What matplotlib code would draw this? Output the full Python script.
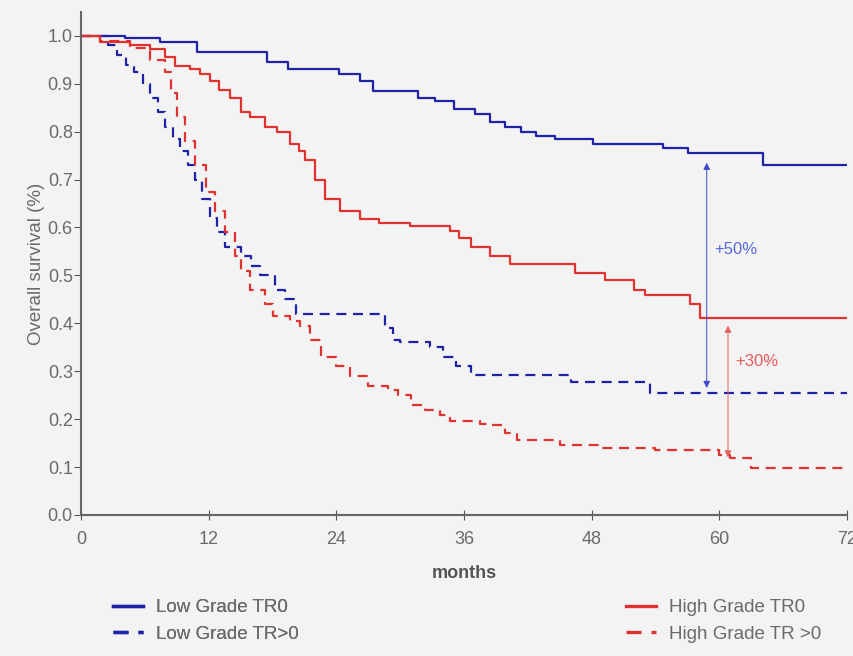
#!/usr/bin/env python3
"""Kaplan-Meier style survival curves by grade and residual tumour."""

import matplotlib

matplotlib.use("Agg", force=True)
import matplotlib.pyplot as plt

# step curves: event times (months) and survival after each step
low_tr0_t = [0, 4.1, 7.4, 10.9, 17.5, 19.4, 24.2, 26.2, 27.4, 31.7, 33.3, 35.0, 37.0, 38.4,
             39.8, 41.3, 42.8, 44.5, 48.1, 54.7, 57.0, 64.1, 72]
low_tr0_s = [1.0, 0.995, 0.988, 0.967, 0.945, 0.93, 0.92, 0.905, 0.884, 0.87, 0.863, 0.848, 0.836,
             0.82, 0.81, 0.80, 0.79, 0.784, 0.775, 0.765, 0.755, 0.73, 0.73]

high_tr0_t = [0, 1.8, 4.6, 6.5, 7.9, 8.8, 10.2, 11.2, 12.1, 13.0, 14.0, 15.0, 15.9, 17.3, 18.4,
              19.6, 20.5, 21.0, 22.0, 22.9, 24.3, 26.2, 28.0, 30.9, 34.7, 35.5, 36.6, 38.4, 40.3,
              46.4, 49.2, 52.0, 53.0, 57.2, 58.2, 72]
high_tr0_s = [1.0, 0.988, 0.98, 0.973, 0.956, 0.936, 0.93, 0.92, 0.905, 0.887, 0.87, 0.84, 0.83,
              0.81, 0.80, 0.775, 0.76, 0.74, 0.70, 0.66, 0.634, 0.617, 0.61, 0.603, 0.593, 0.578,
              0.56, 0.54, 0.524, 0.505, 0.49, 0.47, 0.46, 0.44, 0.41, 0.41]

low_trp_t = [0, 2.5, 3.4, 4.2, 5.0, 5.8, 6.5, 7.2, 7.9, 8.6, 9.3, 10.0, 10.7, 11.4, 12.1, 12.8,
             13.5, 15.0, 16.0, 16.8, 18.2, 19.2, 20.2, 28.6, 29.3, 30.0, 32.8, 34.0, 35.2, 36.6,
             46.0, 53.5, 72]
low_trp_s = [1.0, 0.98, 0.96, 0.94, 0.925, 0.90, 0.87, 0.84, 0.81, 0.785, 0.76, 0.73, 0.70,
             0.66, 0.62, 0.59, 0.56, 0.54, 0.52, 0.50, 0.47, 0.45, 0.42, 0.39, 0.365, 0.36, 0.35,
             0.33, 0.31, 0.293, 0.277, 0.254, 0.254]

high_trp_t = [0, 1.8, 4.6, 6.5, 7.9, 8.4, 9.0, 9.8, 10.7, 11.7, 12.6, 13.5, 14.5, 15.0, 15.9,
              17.3, 18.0, 19.6, 20.6, 21.5, 22.5, 24.0, 25.3, 27.0, 28.8, 29.8, 31.0, 32.3,
              33.7, 34.7, 37.5, 38.5, 39.8, 41.0, 45.0, 49.0, 53.9, 60.0, 61.0, 63.0, 72]
high_trp_s = [1.0, 0.99, 0.975, 0.95, 0.925, 0.88, 0.83, 0.78, 0.73, 0.675, 0.635, 0.59, 0.54,
              0.51, 0.47, 0.44, 0.415, 0.405, 0.395, 0.365, 0.33, 0.31, 0.29, 0.27, 0.26, 0.25,
              0.23, 0.218, 0.208, 0.197, 0.19, 0.187, 0.172, 0.156, 0.145, 0.14, 0.135, 0.125,
              0.118, 0.098, 0.098]

x_ticks = [0, 12, 24, 36, 48, 60, 72]
y_ticks = [0.0, 0.1, 0.2, 0.3, 0.4, 0.5, 0.6, 0.7, 0.8, 0.9, 1.0]

BLUE = "#1f22a6"
RED = "#e0322e"
GREY = "#6a6a6a"
DASH = (0, (4.5, 3))

plt.rcParams["font.family"] = ["Liberation Sans", "DejaVu Sans"]


def main():
    fig = plt.figure(figsize=(8.54, 6.56), dpi=100)
    fig.patch.set_facecolor("#f3f3f3")
    ax = fig.add_axes([0.095, 0.215, 0.897, 0.767])
    ax.set_facecolor("#f3f3f3")

    l1, = ax.plot(low_tr0_t, low_tr0_s, drawstyle="steps-post", color=BLUE, lw=1.6)
    l2, = ax.plot(low_trp_t, low_trp_s, drawstyle="steps-post", color=BLUE, lw=1.6, ls=DASH)
    l3, = ax.plot(high_tr0_t, high_tr0_s, drawstyle="steps-post", color=RED, lw=1.6)
    l4, = ax.plot(high_trp_t, high_trp_s, drawstyle="steps-post", color=RED, lw=1.6, ls=DASH)

    # difference arrows
    ax.annotate("", xy=(58.8, 0.735), xytext=(58.8, 0.265),
                arrowprops=dict(arrowstyle="<|-|>", color="#3c48c8", lw=0.7,
                                mutation_scale=10, shrinkA=0, shrinkB=0))
    ax.text(59.5, 0.555, "+50%", color="#5a6ae0", fontsize=12, va="center")
    ax.annotate("", xy=(60.8, 0.395), xytext=(60.8, 0.12),
                arrowprops=dict(arrowstyle="<|-|>", color="#e06060", lw=0.7,
                                mutation_scale=10, shrinkA=0, shrinkB=0))
    ax.text(61.5, 0.32, "+30%", color="#e85a5a", fontsize=12, va="center")

    ax.set_xlim(0, 72)
    ax.set_ylim(0, 1.05)
    ax.set_xticks(x_ticks)
    ax.set_yticks(y_ticks)
    ax.set_yticklabels([f"{v:.1f}" for v in y_ticks])
    ax.tick_params(axis="both", colors="#555555", labelsize=13, labelcolor=GREY)
    ax.tick_params(axis="y", length=5, pad=1)
    ax.tick_params(axis="x", direction="inout", length=7, pad=8)
    for side in ("top", "right"):
        ax.spines[side].set_visible(False)
    for side in ("left", "bottom"):
        ax.spines[side].set_color("#666666")
        ax.spines[side].set_linewidth(1.5)

    ax.set_xlabel("months", color="#555555", fontsize=13, fontweight="bold", labelpad=12)
    ax.set_ylabel("Overall survival (%)", color=GREY, fontsize=13.5, labelpad=2)

    common = dict(loc="upper left", frameon=False, fontsize=13.5, labelcolor=GREY,
                  handlelength=1.6, handletextpad=0.7, labelspacing=0.5,
                  borderpad=0, borderaxespad=0)
    leg1 = fig.legend([l1, l2], ["Low Grade TR0", "Low Grade TR>0"],
                      bbox_to_anchor=(113 / 854, 1 - 599 / 656), **common)
    fig.add_artist(leg1)
    leg2 = fig.legend([l3, l4], ["High Grade TR0", "High Grade TR >0"],
                      bbox_to_anchor=(626 / 854, 1 - 599 / 656), **common)
    for leg in (leg1, leg2):
        for line in leg.get_lines():
            line.set_linewidth(2.4)

    fig.savefig("out.png", dpi=100, facecolor=fig.get_facecolor())
    plt.close(fig)


if __name__ == "__main__":
    main()
